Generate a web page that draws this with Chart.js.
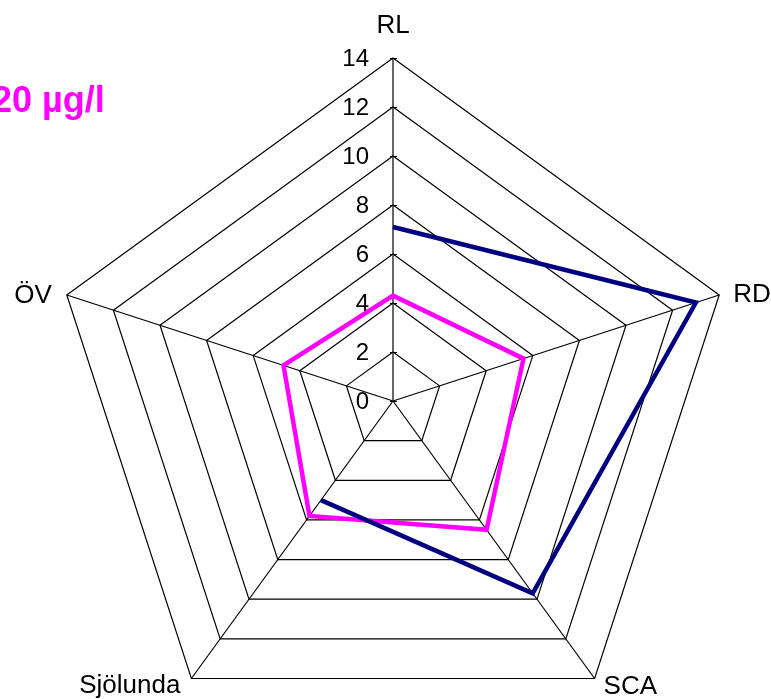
<!DOCTYPE html>
<html><head><meta charset="utf-8">
<script src="https://cdn.jsdelivr.net/npm/chart.js@4"></script>
<style>
html,body{margin:0;padding:0;background:#fff;overflow:hidden;width:771px;height:699px;position:relative;}
#wrap{position:absolute;left:0;top:0;width:771px;height:760px;}
#title{position:absolute;left:-8px;top:82px;font:bold 36px "Liberation Sans",Arial,sans-serif;line-height:36px;color:#ff00ff;white-space:nowrap;}
</style></head><body>
<div id="wrap"><canvas id="c"></canvas></div>
<div id="title">20 µg/l</div>
<script>
const categories = ['RL', 'RD', 'SCA', 'Sjölunda', 'ÖV'];
const seriesNavy = [7.1, 13.0, 9.7, 5.0, null];
const seriesMagenta = [4.3, 5.6, 6.5, 5.8, 4.7];
const tickLabels = ['0', '2', '4', '6', '8', '10', '12', '14'];

// label placement styles (offsets from each axis end)
const labelStyle = [
  {dx: 0, dy: -25, align: 'center'},
  {dx: 14, dy: 7, align: 'left'},
  {dx: 9, dy: 16, align: 'left'},
  {dx: -11, dy: 15, align: 'right'},
  {dx: -15, dy: 8, align: 'right'}
];

const textPlugin = {
  id: 'radarText',
  beforeDatasetsDraw(chart) {
    const s = chart.scales.r;
    const ctx = chart.ctx;
    ctx.save();
    ctx.strokeStyle = '#000';
    ctx.lineWidth = 1;
    ctx.fillStyle = '#000';
    ctx.font = '24px "Liberation Sans", Arial, sans-serif';
    ctx.textAlign = 'right';
    ctx.textBaseline = 'middle';
    s.ticks.forEach((t, i) => {
      const p = s.getPointPositionForValue(0, t.value);
      ctx.beginPath();
      ctx.moveTo(p.x - 3, Math.round(p.y) + 0.5);
      ctx.lineTo(p.x + 4, Math.round(p.y) + 0.5);
      ctx.stroke();
      ctx.fillText(tickLabels[i] !== undefined ? tickLabels[i] : String(t.value), p.x - 24, p.y + 1);
    });
    ctx.font = '26px "Liberation Sans", Arial, sans-serif';
    ctx.textBaseline = 'alphabetic';
    categories.forEach((c, i) => {
      const p = s.getPointPosition(i, s.drawingArea);
      const st = labelStyle[i];
      ctx.textAlign = st.align;
      ctx.fillText(c, p.x + st.dx, p.y + st.dy);
    });
    ctx.restore();
  }
};

new Chart(document.getElementById('c'), {
  type: 'radar',
  data: {
    labels: categories,
    datasets: [
      {label: 'Serie 1', data: seriesNavy, borderColor: '#000080', borderWidth: 4.5, fill: false, pointRadius: 0, pointHoverRadius: 0, tension: 0, spanGaps: false, borderJoinStyle: 'miter'},
      {label: '20 µg/l', data: seriesMagenta, borderColor: '#ff00ff', borderWidth: 4.5, fill: false, pointRadius: 0, pointHoverRadius: 0, tension: 0, borderJoinStyle: 'miter'}
    ]
  },
  options: {
    responsive: true,
    maintainAspectRatio: false,
    animation: false,
    layout: {padding: {left: 50, right: 35, top: 58, bottom: 16}},
    plugins: {legend: {display: false}, tooltip: {enabled: false}},
    scales: {
      r: {
        min: 0, max: 14,
        ticks: {stepSize: 2, display: false},
        grid: {color: '#000', lineWidth: 1.2},
        angleLines: {color: '#000', lineWidth: 1.2},
        pointLabels: {display: false}
      }
    }
  },
  plugins: [textPlugin]
});
</script>
</body></html>
